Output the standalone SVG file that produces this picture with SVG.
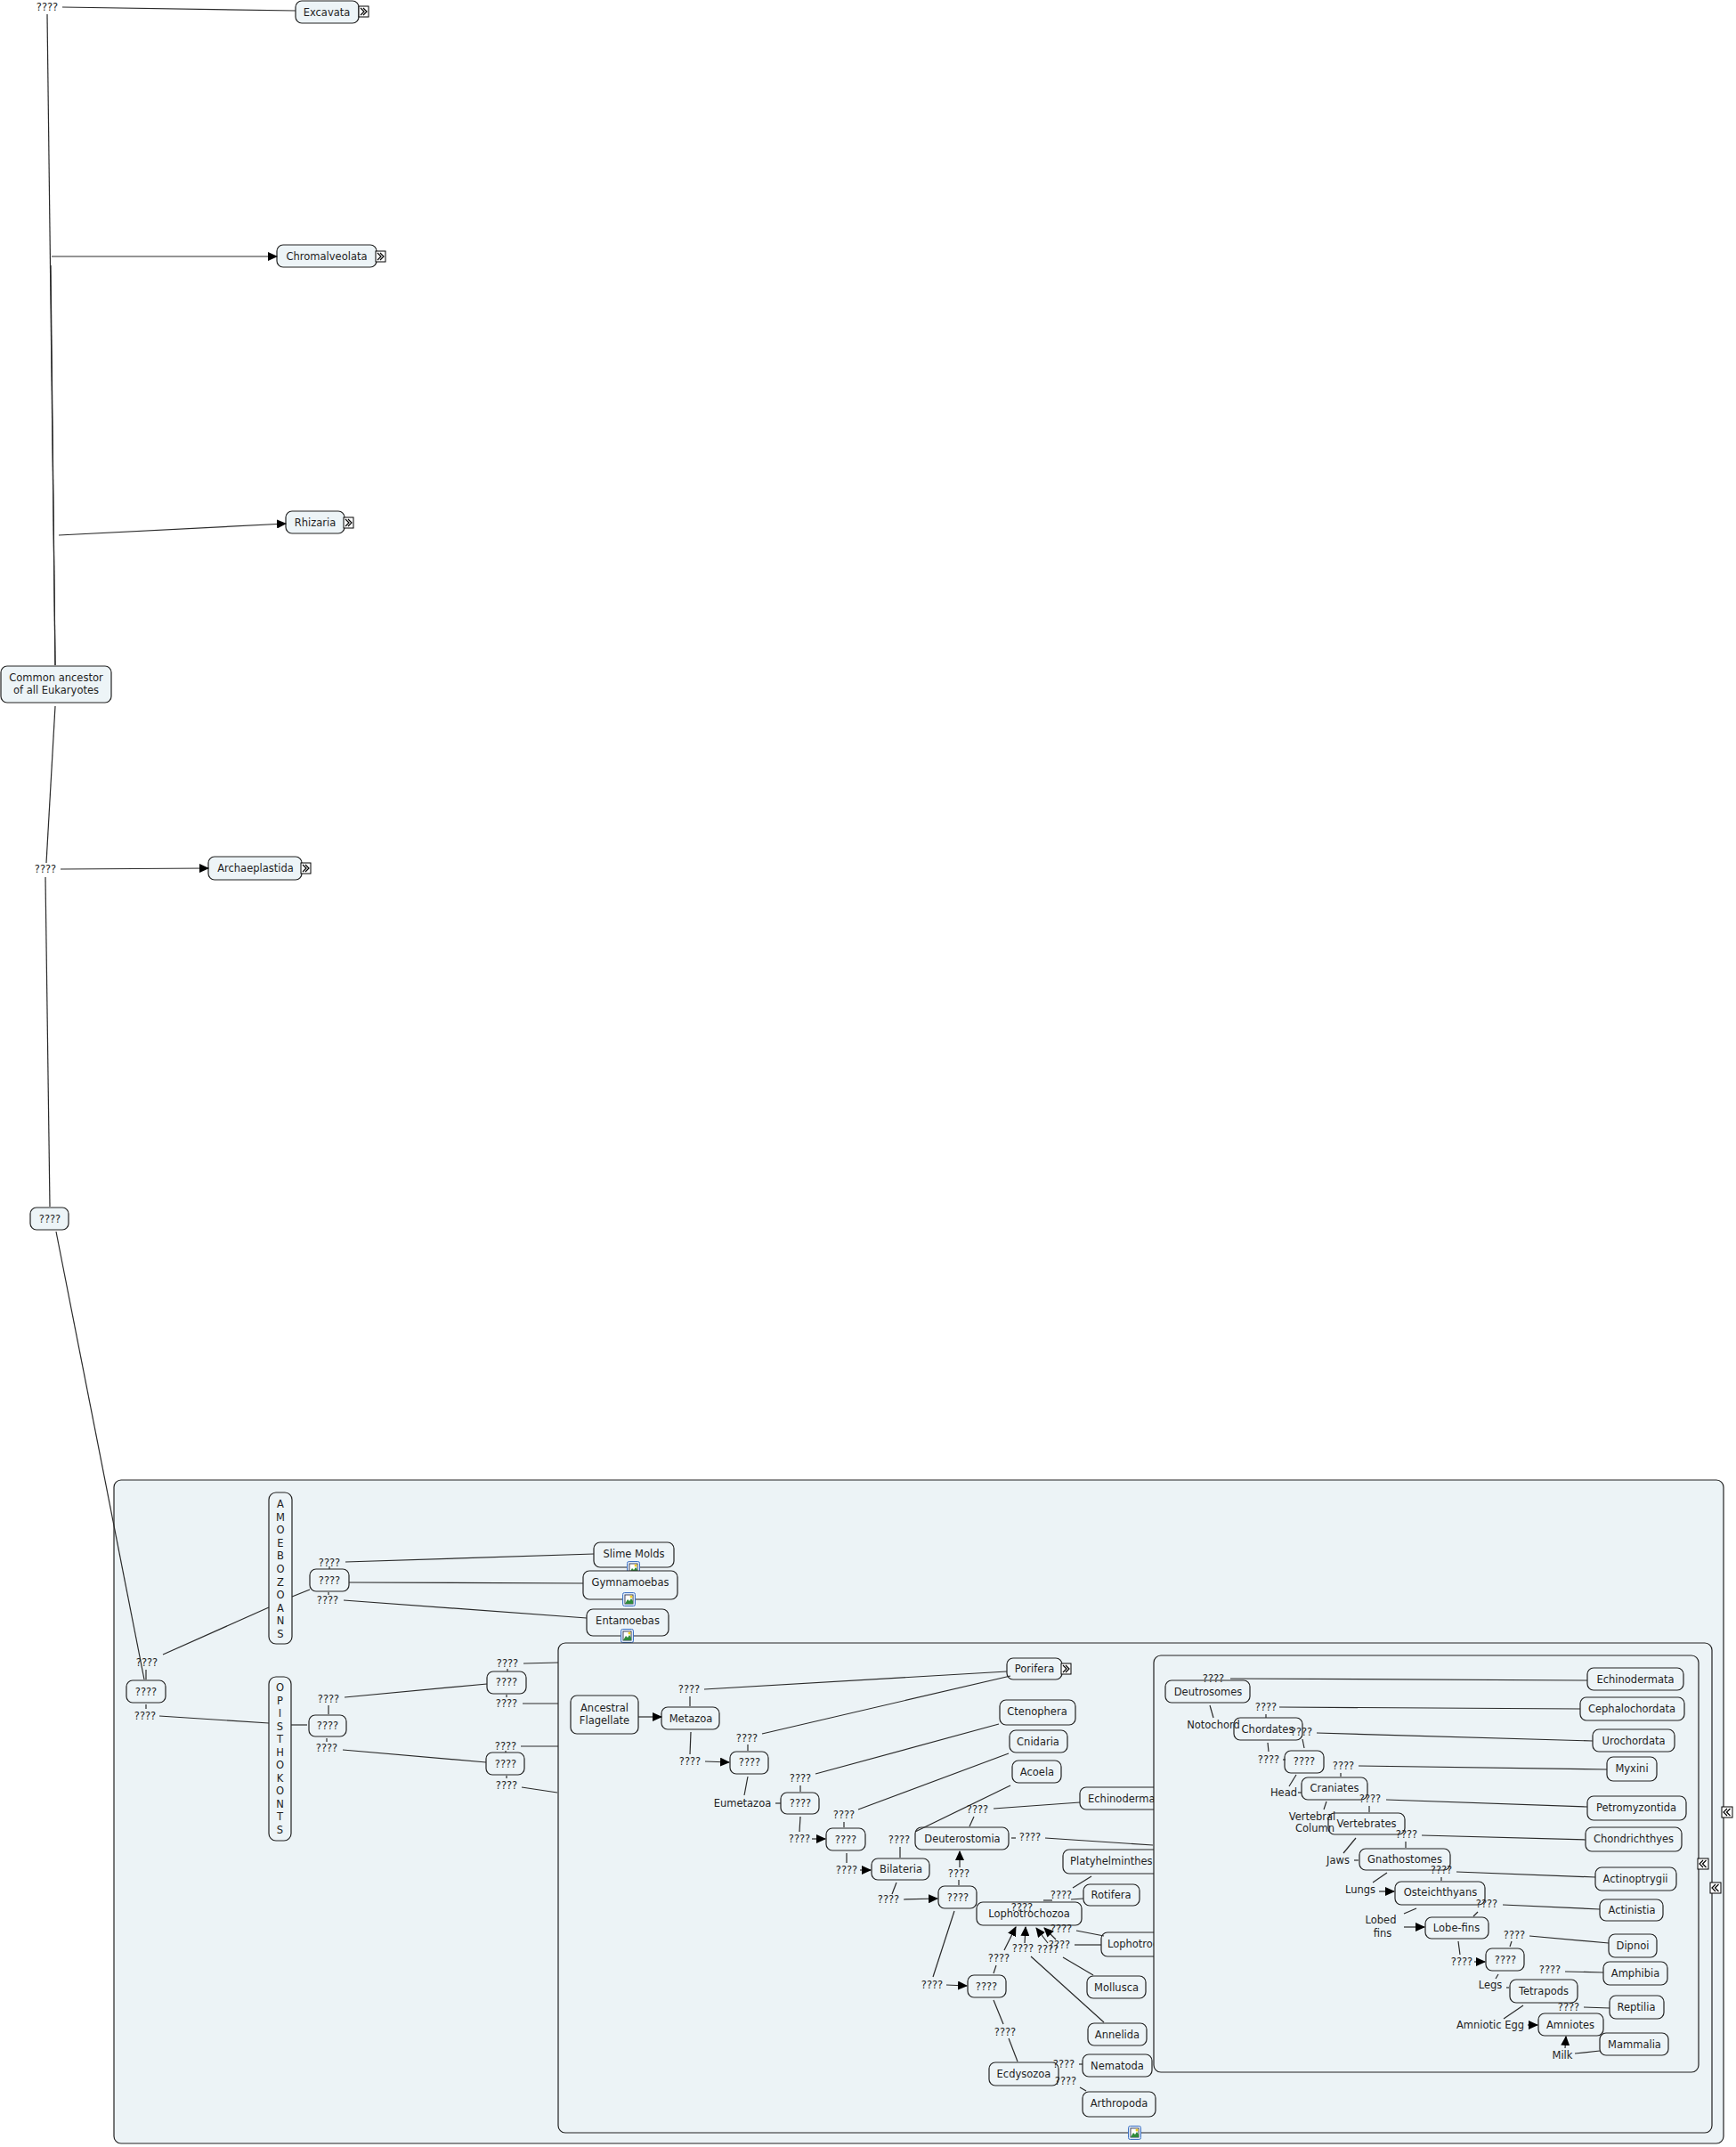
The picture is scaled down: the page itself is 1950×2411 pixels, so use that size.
<svg xmlns="http://www.w3.org/2000/svg" xmlns:xlink="http://www.w3.org/1999/xlink" width="1950" height="2411" viewBox="0 0 1950 2411">
<style>
text{font-family:"DejaVu Sans",Verdana,sans-serif;font-size:11.5px;fill:#1e1e1e}
.c{text-anchor:middle}
.s{text-anchor:start}
.box{fill:#edf4f7;stroke:#222;stroke-width:1.2}
.cont{fill:#ecf3f6;stroke:#222;stroke-width:1.2}
#links line,#links path{stroke:#2a2a2a;stroke-width:1.2;fill:none}
#links .a{marker-end:url(#ah)}
</style>
<defs>
<marker id="ah" markerUnits="userSpaceOnUse" markerWidth="11" markerHeight="10" refX="10" refY="5" orient="auto">
<path d="M0,0 L11,5 L0,10 z" fill="#000"/>
</marker>
<g id="exp"><rect x="0" y="0" width="11" height="12" fill="#fff" stroke="#000" stroke-width="1"/><path d="M2,2 L6,6 L2,10 M5,2 L9,6 L5,10" fill="none" stroke="#000" stroke-width="1.2"/></g>
<g id="col"><rect x="0" y="0" width="12" height="12" fill="#fff" stroke="#000" stroke-width="1"/><path d="M6,2 L2,6 L6,10 M9.5,2 L5.5,6 L9.5,10" fill="none" stroke="#000" stroke-width="1.2"/></g>
<g id="img"><rect x="0.5" y="0.5" width="14" height="15" rx="2" fill="#dbe8f8" stroke="#3f72c4" stroke-width="1"/><rect x="3" y="3" width="9" height="10" fill="#fff" stroke="#223" stroke-width="0.8"/><path d="M3,13 L6,8 L8,10 L10,7 L12,10 L12,13 z" fill="#2f8a3a"/><circle cx="10" cy="5" r="1.5" fill="#f0d020"/></g>
</defs>
<rect width="1950" height="2411" fill="#fff"/>

<!-- top-level nodes -->
<g id="n-excavata"><rect class="box" x="332" y="1" width="71" height="25" rx="7"/><text class="c" x="367" y="18">Excavata</text><use xlink:href="#exp" x="403" y="7"/></g>
<g id="n-chromalveolata"><rect class="box" x="311" y="275" width="112" height="25" rx="7"/><text class="c" x="367" y="292">Chromalveolata</text><use xlink:href="#exp" x="422" y="282"/></g>
<g id="n-rhizaria"><rect class="box" x="321" y="574" width="66" height="25" rx="7"/><text class="c" x="354" y="591">Rhizaria</text><use xlink:href="#exp" x="386" y="581"/></g>
<g id="n-common"><rect class="box" x="1" y="748" width="124" height="41" rx="7"/><text class="c" x="63" y="765">Common ancestor</text><text class="c" x="63" y="779">of all Eukaryotes</text></g>
<g id="n-archaeplastida"><rect class="box" x="234" y="962" width="105" height="26" rx="7"/><text class="c" x="287" y="979">Archaeplastida</text><use xlink:href="#exp" x="338" y="969"/></g>
<g id="n-q0"><rect class="box" x="34" y="1356" width="43" height="25" rx="7"/><text class="c" x="56" y="1373">????</text></g>

<!-- outer container -->
<g id="n-outer"><rect class="cont" x="128" y="1662" width="1808" height="745" rx="8"/><use xlink:href="#col" x="1934" y="2029"/></g>
<g id="n-q1"><rect class="box" x="142" y="1887" width="44" height="25" rx="7"/><text class="c" x="164" y="1904">????</text></g>
<g id="n-amoebozoans"><rect class="box" x="302" y="1676" width="26" height="170" rx="8"/>
<text class="c" x="315" y="1693">A</text><text class="c" x="315" y="1707.6">M</text><text class="c" x="315" y="1722.2">O</text><text class="c" x="315" y="1736.8">E</text><text class="c" x="315" y="1751.4">B</text><text class="c" x="315" y="1766">O</text><text class="c" x="315" y="1780.6">Z</text><text class="c" x="315" y="1795.2">O</text><text class="c" x="315" y="1809.8">A</text><text class="c" x="315" y="1824.4">N</text><text class="c" x="315" y="1839">S</text></g>
<g id="n-opisthokonts"><rect class="box" x="302" y="1883" width="25" height="184" rx="8"/>
<text class="c" x="314.5" y="1899">O</text><text class="c" x="314.5" y="1913.5">P</text><text class="c" x="314.5" y="1928">I</text><text class="c" x="314.5" y="1942.5">S</text><text class="c" x="314.5" y="1957">T</text><text class="c" x="314.5" y="1971.5">H</text><text class="c" x="314.5" y="1986">O</text><text class="c" x="314.5" y="2000.5">K</text><text class="c" x="314.5" y="2015">O</text><text class="c" x="314.5" y="2029.5">N</text><text class="c" x="314.5" y="2044">T</text><text class="c" x="314.5" y="2058.5">S</text></g>
<g id="n-q2"><rect class="box" x="348" y="1762" width="44" height="25" rx="7"/><text class="c" x="370" y="1779">????</text></g>
<g id="n-slimemolds"><rect class="box" x="667" y="1732" width="90" height="28" rx="7"/><text class="c" x="712" y="1749">Slime Molds</text><use xlink:href="#img" x="704" y="1753"/></g>
<g id="n-gymnamoebas"><rect class="box" x="655" y="1764" width="106" height="32" rx="7"/><text class="c" x="708" y="1781">Gymnamoebas</text><use xlink:href="#img" x="699" y="1788"/></g>
<g id="n-entamoebas"><rect class="box" x="659" y="1807" width="92" height="30" rx="7"/><text class="c" x="705" y="1824">Entamoebas</text><use xlink:href="#img" x="697" y="1829"/></g>
<g id="n-q3"><rect class="box" x="347" y="1926" width="42" height="24" rx="7"/><text class="c" x="368" y="1942">????</text></g>
<g id="n-q4"><rect class="box" x="547" y="1877" width="44" height="25" rx="7"/><text class="c" x="569" y="1893">????</text></g>
<g id="n-q5"><rect class="box" x="546" y="1968" width="43" height="25" rx="7"/><text class="c" x="568" y="1985">????</text></g>

<!-- inner container -->
<g id="n-inner"><rect class="cont" x="627" y="1845" width="1296" height="550" rx="8"/><use xlink:href="#img" x="1267" y="2387"/><use xlink:href="#col" x="1921" y="2114"/></g>
<g id="n-flagellate"><rect class="box" x="641" y="1904" width="76" height="43" rx="7"/><text class="c" x="679" y="1922">Ancestral</text><text class="c" x="679" y="1936">Flagellate</text></g>
<g id="n-metazoa"><rect class="box" x="743" y="1917" width="65" height="25" rx="7"/><text class="c" x="776" y="1934">Metazoa</text></g>
<g id="n-qa"><rect class="box" x="820" y="1967" width="43" height="25" rx="7"/><text class="c" x="842" y="1983">????</text></g>
<g id="n-qb"><rect class="box" x="877" y="2013" width="43" height="24" rx="7"/><text class="c" x="899" y="2029">????</text></g>
<g id="n-qc"><rect class="box" x="928" y="2053" width="44" height="25" rx="7"/><text class="c" x="950" y="2070">????</text></g>
<g id="n-bilateria"><rect class="box" x="979" y="2087" width="65" height="24" rx="7"/><text class="c" x="1012" y="2103">Bilateria</text></g>
<g id="n-deuterostomia"><rect class="box" x="1028" y="2052" width="105" height="25" rx="7"/><text class="c" x="1081" y="2069">Deuterostomia</text></g>
<g id="n-porifera"><rect class="box" x="1131" y="1862" width="62" height="24" rx="7"/><text class="c" x="1162" y="1878">Porifera</text><use xlink:href="#exp" x="1192" y="1868"/></g>
<g id="n-ctenophera"><rect class="box" x="1123" y="1909" width="85" height="28" rx="7"/><text class="c" x="1165" y="1926">Ctenophera</text></g>
<g id="n-cnidaria"><rect class="box" x="1134" y="1943" width="65" height="25" rx="7"/><text class="c" x="1166" y="1960">Cnidaria</text></g>
<g id="n-acoela"><rect class="box" x="1137" y="1977" width="55" height="25" rx="7"/><text class="c" x="1165" y="1994">Acoela</text></g>
<g id="n-echinodermata1"><rect class="box" x="1213" y="2007" width="104" height="25" rx="7"/><text class="s" x="1222" y="2024">Echinodermata</text></g>
<g id="n-platyhelminthes"><rect class="box" x="1194" y="2077" width="112" height="27" rx="7"/><text class="s" x="1202" y="2094">Platyhelminthes</text></g>
<g id="n-rotifera"><rect class="box" x="1217" y="2116" width="63" height="24" rx="7"/><text class="c" x="1248" y="2132">Rotifera</text></g>
<g id="n-lophotrochozoa"><rect class="box" x="1097" y="2136" width="118" height="26" rx="7"/><text class="c" x="1156" y="2153">Lophotrochozoa</text></g>
<g id="n-lophotro"><rect class="box" x="1237" y="2170" width="120" height="27" rx="7"/><text class="s" x="1244" y="2187">Lophotrochophora</text></g>
<g id="n-qd"><rect class="box" x="1054" y="2118" width="43" height="25" rx="7"/><text class="c" x="1076" y="2135">????</text></g>
<g id="n-qe"><rect class="box" x="1087" y="2218" width="43" height="25" rx="7"/><text class="c" x="1108" y="2235">????</text></g>
<g id="n-mollusca"><rect class="box" x="1221" y="2219" width="66" height="25" rx="7"/><text class="c" x="1254" y="2236">Mollusca</text></g>
<g id="n-annelida"><rect class="box" x="1222" y="2272" width="66" height="25" rx="7"/><text class="c" x="1255" y="2289">Annelida</text></g>
<g id="n-nematoda"><rect class="box" x="1216" y="2307" width="78" height="25" rx="7"/><text class="c" x="1255" y="2324">Nematoda</text></g>
<g id="n-arthropoda"><rect class="box" x="1216" y="2349" width="82" height="28" rx="7"/><text class="c" x="1257" y="2366">Arthropoda</text></g>
<g id="n-ecdysozoa"><rect class="box" x="1111" y="2316" width="78" height="26" rx="7"/><text class="c" x="1150" y="2333">Ecdysozoa</text></g>

<!-- chordate container -->
<g id="n-chordcont"><rect class="cont" x="1296" y="1859" width="612" height="468" rx="8"/><use xlink:href="#col" x="1907" y="2087"/></g>
<g id="n-deutrosomes"><rect class="box" x="1309" y="1887" width="95" height="25" rx="7"/><text class="c" x="1357" y="1904">Deutrosomes</text></g>
<g id="n-chordates"><rect class="box" x="1386" y="1929" width="77" height="25" rx="7"/><text class="c" x="1424" y="1946">Chordates</text></g>
<g id="n-qf"><rect class="box" x="1443" y="1966" width="44" height="25" rx="7"/><text class="c" x="1465" y="1982">????</text></g>
<g id="n-craniates"><rect class="box" x="1462" y="1996" width="74" height="25" rx="7"/><text class="c" x="1499" y="2012">Craniates</text></g>
<g id="n-vertebrates"><rect class="box" x="1492" y="2036" width="86" height="24" rx="7"/><text class="c" x="1535" y="2052">Vertebrates</text></g>
<g id="n-gnathostomes"><rect class="box" x="1527" y="2076" width="102" height="24" rx="7"/><text class="c" x="1578" y="2092">Gnathostomes</text></g>
<g id="n-osteichthyans"><rect class="box" x="1567" y="2113" width="101" height="26" rx="7"/><text class="c" x="1618" y="2129">Osteichthyans</text></g>
<g id="n-lobefins"><rect class="box" x="1601" y="2153" width="71" height="24" rx="7"/><text class="c" x="1636" y="2169">Lobe-fins</text></g>
<g id="n-qg"><rect class="box" x="1669" y="2188" width="43" height="25" rx="7"/><text class="c" x="1691" y="2205">????</text></g>
<g id="n-tetrapods"><rect class="box" x="1696" y="2223" width="76" height="26" rx="7"/><text class="c" x="1734" y="2240">Tetrapods</text></g>
<g id="n-amniotes"><rect class="box" x="1728" y="2261" width="73" height="25" rx="7"/><text class="c" x="1764" y="2278">Amniotes</text></g>
<g id="n-echinodermata2"><rect class="box" x="1783" y="1873" width="108" height="25" rx="7"/><text class="c" x="1837" y="1890">Echinodermata</text></g>
<g id="n-cephalochordata"><rect class="box" x="1775" y="1906" width="117" height="26" rx="7"/><text class="c" x="1833" y="1923">Cephalochordata</text></g>
<g id="n-urochordata"><rect class="box" x="1789" y="1942" width="92" height="25" rx="7"/><text class="c" x="1835" y="1959">Urochordata</text></g>
<g id="n-myxini"><rect class="box" x="1805" y="1973" width="56" height="27" rx="7"/><text class="c" x="1833" y="1990">Myxini</text></g>
<g id="n-petromyzontida"><rect class="box" x="1783" y="2017" width="111" height="27" rx="7"/><text class="c" x="1838" y="2034">Petromyzontida</text></g>
<g id="n-chondrichthyes"><rect class="box" x="1781" y="2052" width="108" height="27" rx="7"/><text class="c" x="1835" y="2069">Chondrichthyes</text></g>
<g id="n-actinoptrygii"><rect class="box" x="1792" y="2097" width="91" height="26" rx="7"/><text class="c" x="1837" y="2114">Actinoptrygii</text></g>
<g id="n-actinistia"><rect class="box" x="1797" y="2133" width="71" height="24" rx="7"/><text class="c" x="1833" y="2149">Actinistia</text></g>
<g id="n-dipnoi"><rect class="box" x="1807" y="2172" width="54" height="26" rx="7"/><text class="c" x="1834" y="2189">Dipnoi</text></g>
<g id="n-amphibia"><rect class="box" x="1801" y="2203" width="72" height="26" rx="7"/><text class="c" x="1837" y="2220">Amphibia</text></g>
<g id="n-reptilia"><rect class="box" x="1808" y="2241" width="61" height="26" rx="7"/><text class="c" x="1838" y="2258">Reptilia</text></g>
<g id="n-mammalia"><rect class="box" x="1797" y="2283" width="77" height="25" rx="7"/><text class="c" x="1836" y="2300">Mammalia</text></g>

<!-- connectors and linking phrases -->
<g id="links">
<line x1="70" y1="8" x2="332" y2="12"/>
<line x1="53" y1="16" x2="62" y2="747"/>
<line x1="57" y1="298" x2="62" y2="747"/>
<path class="a" d="M58,288 L311,288"/>
<path class="a" d="M66,601 L321,588"/>
<line x1="62" y1="793" x2="52" y2="969"/>
<path class="a" d="M68,976 L234,975"/>
<line x1="51" y1="985" x2="56" y2="1355"/>
<line x1="63" y1="1383" x2="162" y2="1886"/>

<line x1="183" y1="1858" x2="302" y2="1805"/>
<line x1="164" y1="1875" x2="164" y2="1886"/>
<line x1="164" y1="1914" x2="164" y2="1919"/>
<line x1="179" y1="1927" x2="302" y2="1935"/>
<line x1="328" y1="1793" x2="348" y2="1785"/>
<line x1="370" y1="1759" x2="370" y2="1762"/>
<line x1="388" y1="1754" x2="667" y2="1745"/>
<line x1="392" y1="1777" x2="655" y2="1778"/>
<line x1="369" y1="1788" x2="369" y2="1791"/>
<line x1="386" y1="1797" x2="659" y2="1817"/>
<line x1="327" y1="1937" x2="345" y2="1937"/>
<line x1="369" y1="1915" x2="369" y2="1925"/>
<line x1="387" y1="1906" x2="547" y2="1891"/>
<line x1="367" y1="1952" x2="367" y2="1956"/>
<line x1="385" y1="1965" x2="546" y2="1979"/>
<line x1="570" y1="1874" x2="570" y2="1877"/>
<line x1="588" y1="1868" x2="627" y2="1867"/>
<line x1="569" y1="1903" x2="569" y2="1906"/>
<line x1="587" y1="1913" x2="627" y2="1913"/>
<line x1="568" y1="1966" x2="568" y2="1968"/>
<line x1="585" y1="1961" x2="627" y2="1961"/>
<line x1="569" y1="1994" x2="569" y2="1997"/>
<line x1="586" y1="2007" x2="626" y2="2013"/>

<path class="a" d="M717,1928 L743,1928"/>
<line x1="775" y1="1905" x2="775" y2="1916"/>
<line x1="791" y1="1897" x2="1131" y2="1877"/>
<line x1="776" y1="1945" x2="775" y2="1970"/>
<path class="a" d="M792,1978 L819,1979"/>
<line x1="840" y1="1959" x2="840" y2="1966"/>
<line x1="856" y1="1947" x2="1135" y2="1882"/>
<line x1="840" y1="1995" x2="836" y2="2016"/>
<line x1="871" y1="2025" x2="877" y2="2025"/>
<line x1="899" y1="2005" x2="899" y2="2012"/>
<line x1="916" y1="1992" x2="1122" y2="1936"/>
<line x1="899" y1="2040" x2="898" y2="2057"/>
<path class="a" d="M912,2065 L927,2065"/>
<line x1="948" y1="2046" x2="948" y2="2052"/>
<line x1="964" y1="2032" x2="1133" y2="1969"/>
<line x1="951" y1="2081" x2="951" y2="2092"/>
<path class="a" d="M966,2100 L978,2100"/>
<line x1="1011" y1="2074" x2="1011" y2="2086"/>
<line x1="1028" y1="2057" x2="1135" y2="2005"/>
<line x1="1094" y1="2040" x2="1089" y2="2051"/>
<line x1="1116" y1="2031" x2="1213" y2="2024"/>
<line x1="1136" y1="2064" x2="1141" y2="2064"/>
<line x1="1174" y1="2064" x2="1295" y2="2072"/>
<line x1="1205" y1="2120" x2="1226" y2="2107"/>
<line x1="1203" y1="2133" x2="1217" y2="2132"/>
<line x1="1172" y1="2134" x2="1182" y2="2134"/>
<line x1="1077" y1="2111" x2="1077" y2="2117"/>
<path class="a" d="M1078,2097 L1078,2079"/>
<line x1="1007" y1="2114" x2="1002" y2="2127"/>
<path class="a" d="M1015,2133 L1053,2132"/>
<line x1="1072" y1="2146" x2="1048" y2="2220"/>
<path class="a" d="M1063,2229 L1086,2230"/>
<line x1="1116" y1="2216" x2="1119" y2="2207"/>
<path class="a" d="M1128,2190 L1141,2164"/>
<path class="a" d="M1151,2182 L1152,2164"/>
<line x1="1158" y1="2197" x2="1240" y2="2271"/>
<path class="a" d="M1177,2182 L1164,2165"/>
<path class="a" d="M1186,2178 L1173,2165"/>
<line x1="1209" y1="2168" x2="1240" y2="2174"/>
<line x1="1207" y1="2184" x2="1237" y2="2184"/>
<line x1="1194" y1="2198" x2="1228" y2="2218"/>
<line x1="1116" y1="2246" x2="1127" y2="2273"/>
<line x1="1133" y1="2289" x2="1143" y2="2315"/>
<line x1="1212" y1="2318" x2="1216" y2="2318"/>
<line x1="1213" y1="2344" x2="1220" y2="2348"/>

<line x1="1382" y1="1885" x2="1783" y2="1887"/>
<line x1="1359" y1="1915" x2="1363" y2="1929"/>
<line x1="1422" y1="1925" x2="1422" y2="1929"/>
<line x1="1437" y1="1917" x2="1775" y2="1919"/>
<line x1="1479" y1="1946" x2="1789" y2="1955"/>
<line x1="1463" y1="1953" x2="1465" y2="1963"/>
<line x1="1424" y1="1957" x2="1425" y2="1967"/>
<line x1="1441" y1="1976" x2="1444" y2="1976"/>
<line x1="1456" y1="1993" x2="1448" y2="2006"/>
<line x1="1458" y1="2013" x2="1462" y2="2013"/>
<line x1="1506" y1="1991" x2="1506" y2="1995"/>
<line x1="1526" y1="1983" x2="1805" y2="1987"/>
<line x1="1490" y1="2023" x2="1487" y2="2032"/>
<line x1="1538" y1="2028" x2="1538" y2="2035"/>
<line x1="1557" y1="2021" x2="1783" y2="2029"/>
<line x1="1523" y1="2064" x2="1509" y2="2081"/>
<line x1="1521" y1="2089" x2="1526" y2="2089"/>
<line x1="1579" y1="2068" x2="1579" y2="2075"/>
<line x1="1597" y1="2061" x2="1781" y2="2066"/>
<line x1="1619" y1="2108" x2="1619" y2="2112"/>
<line x1="1636" y1="2102" x2="1792" y2="2108"/>
<line x1="1558" y1="2103" x2="1542" y2="2114"/>
<path class="a" d="M1549,2124 L1566,2124"/>
<line x1="1688" y1="2139" x2="1797" y2="2144"/>
<line x1="1660" y1="2147" x2="1655" y2="2152"/>
<line x1="1591" y1="2143" x2="1577" y2="2149"/>
<path class="a" d="M1577,2164 L1600,2164"/>
<line x1="1638" y1="2180" x2="1640" y2="2195"/>
<path class="a" d="M1656,2203 L1668,2203"/>
<line x1="1698" y1="2180" x2="1696" y2="2186"/>
<line x1="1718" y1="2174" x2="1807" y2="2182"/>
<line x1="1683" y1="2217" x2="1680" y2="2222"/>
<line x1="1692" y1="2232" x2="1695" y2="2232"/>
<line x1="1758" y1="2214" x2="1801" y2="2215"/>
<line x1="1779" y1="2254" x2="1808" y2="2255"/>
<line x1="1711" y1="2252" x2="1689" y2="2267"/>
<path class="a" d="M1716,2274 L1727,2274"/>
<path class="a" d="M1758,2300 L1759,2287"/>
<line x1="1769" y1="2306" x2="1797" y2="2303"/>

<text class="c" x="53" y="12">????</text>
<text class="c" x="51" y="980">????</text>
<text class="c" x="165" y="1871">????</text>
<text class="c" x="163" y="1931">????</text>
<text class="c" x="370" y="1759">????</text>
<text class="c" x="368" y="1801">????</text>
<text class="c" x="369" y="1912">????</text>
<text class="c" x="367" y="1967">????</text>
<text class="c" x="570" y="1872">????</text>
<text class="c" x="569" y="1917">????</text>
<text class="c" x="568" y="1965">????</text>
<text class="c" x="569" y="2009">????</text>
<text class="c" x="774" y="1901">????</text>
<text class="c" x="775" y="1982">????</text>
<text class="c" x="839" y="1956">????</text>
<text class="c" x="834" y="2029">Eumetazoa</text>
<text class="c" x="899" y="2001">????</text>
<text class="c" x="898" y="2069">????</text>
<text class="c" x="948" y="2042">????</text>
<text class="c" x="951" y="2104">????</text>
<text class="c" x="1010" y="2070">????</text>
<text class="c" x="1098" y="2036">????</text>
<text class="c" x="1157" y="2067">????</text>
<text class="c" x="1192" y="2132">????</text>
<text class="c" x="1148" y="2146">????</text>
<text class="c" x="1077" y="2108">????</text>
<text class="c" x="998" y="2137">????</text>
<text class="c" x="1047" y="2233">????</text>
<text class="c" x="1122" y="2203">????</text>
<text class="c" x="1149" y="2192">????</text>
<text class="c" x="1177" y="2193">????</text>
<text class="c" x="1190" y="2188">????</text>
<text class="c" x="1192" y="2170">????</text>
<text class="c" x="1129" y="2286">????</text>
<text class="c" x="1195" y="2322">????</text>
<text class="c" x="1197" y="2341">????</text>

<text class="c" x="1363" y="1889">????</text>
<text class="c" x="1363" y="1941">Notochord</text>
<text class="c" x="1422" y="1921">????</text>
<text class="c" x="1462" y="1949">????</text>
<text class="c" x="1425" y="1980">????</text>
<text class="c" x="1442" y="2017">Head</text>
<text class="c" x="1509" y="1987">????</text>
<text class="c" x="1474" y="2044">Vertebral</text>
<text class="c" x="1477" y="2057">Column</text>
<text class="c" x="1539" y="2024">????</text>
<text class="c" x="1503" y="2093">Jaws</text>
<text class="c" x="1580" y="2064">????</text>
<text class="c" x="1619" y="2104">????</text>
<text class="c" x="1528" y="2126">Lungs</text>
<text class="c" x="1670" y="2142">????</text>
<text class="c" x="1551" y="2160">Lobed</text>
<text class="c" x="1553" y="2175">fins</text>
<text class="c" x="1642" y="2207">????</text>
<text class="c" x="1701" y="2177">????</text>
<text class="c" x="1674" y="2233">Legs</text>
<text class="c" x="1741" y="2216">????</text>
<text class="c" x="1762" y="2258">????</text>
<text class="c" x="1674" y="2278">Amniotic Egg</text>
<text class="c" x="1755" y="2312">Milk</text>
</g>
</svg>
